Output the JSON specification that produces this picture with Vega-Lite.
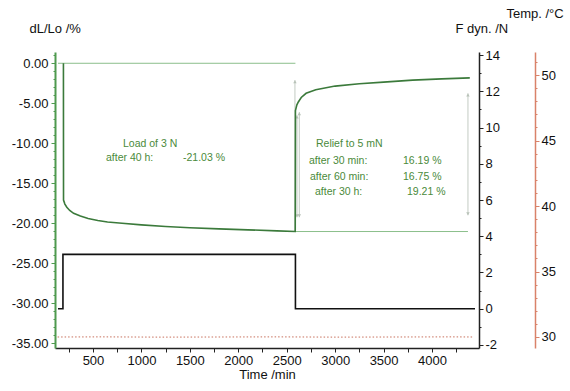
{
  "$schema": "https://vega.github.io/schema/vega-lite/v6.json",
  "width": 424,
  "height": 296,
  "autosize": {"type": "none"},
  "padding": {"left": 55, "top": 52, "right": 91, "bottom": 43},
  "background": "white",
  "config": {
    "view": {"stroke": null},
    "font": "Liberation Sans",
    "axis": {"labelFont": "Liberation Sans", "titleFont": "Liberation Sans", "labelFontSize": 13, "titleFontSize": 13, "titleFontWeight": "normal", "labelColor": "#111", "titleColor": "#111", "grid": false, "labelOverlap": false, "labelBound": false, "labelFlush": false}
  },
  "datasets": {
    "strain": [
      {"i": 0, "t": 195, "L": 0},
      {"i": 1, "t": 196, "L": -17.1},
      {"i": 2, "t": 210, "L": -17.6},
      {"i": 3, "t": 230, "L": -18.0},
      {"i": 4, "t": 260, "L": -18.4},
      {"i": 5, "t": 300, "L": -18.75},
      {"i": 6, "t": 370, "L": -19.1},
      {"i": 7, "t": 450, "L": -19.4},
      {"i": 8, "t": 550, "L": -19.65},
      {"i": 9, "t": 650, "L": -19.85},
      {"i": 10, "t": 800, "L": -20.0},
      {"i": 11, "t": 1000, "L": -20.2},
      {"i": 12, "t": 1250, "L": -20.4},
      {"i": 13, "t": 1500, "L": -20.55},
      {"i": 14, "t": 1800, "L": -20.7},
      {"i": 15, "t": 2100, "L": -20.82},
      {"i": 16, "t": 2400, "L": -20.95},
      {"i": 17, "t": 2588, "L": -21.03},
      {"i": 18, "t": 2590, "L": -5.9},
      {"i": 19, "t": 2605, "L": -5.2},
      {"i": 20, "t": 2620, "L": -4.84},
      {"i": 21, "t": 2650, "L": -4.28},
      {"i": 22, "t": 2700, "L": -3.75},
      {"i": 23, "t": 2800, "L": -3.3},
      {"i": 24, "t": 3000, "L": -2.85},
      {"i": 25, "t": 3250, "L": -2.55},
      {"i": 26, "t": 3500, "L": -2.35},
      {"i": 27, "t": 3800, "L": -2.1},
      {"i": 28, "t": 4100, "L": -1.95},
      {"i": 29, "t": 4390, "L": -1.82}
    ],
    "refs": [
      {"t": 139, "t2": 2590, "L": 0},
      {"t": 2590, "t2": 4371, "L": -21.03}
    ],
    "arrows": [
      {"t": 2585, "L": -2.1, "L2": -21.0},
      {"t": 2606, "L": -6.5, "L2": -19.25},
      {"t": 2630, "L": -6.1, "L2": -19.25},
      {"t": 4371, "L": -3.75, "L2": -19.0}
    ],
    "heads": [
      {"t": 2585, "L": -2.3, "s": "triangle-up"},
      {"t": 2606, "L": -6.7, "s": "triangle-up"},
      {"t": 2630, "L": -6.3, "s": "triangle-up"},
      {"t": 2606, "L": -19.05, "s": "triangle-down"},
      {"t": 2630, "L": -19.05, "s": "triangle-down"},
      {"t": 4371, "L": -3.95, "s": "triangle-up"},
      {"t": 4371, "L": -18.8, "s": "triangle-down"}
    ],
    "notes": [
      {"t": 810, "L": -10.1, "label": "Load of 3 N"},
      {"t": 634, "L": -11.9, "label": "after 40 h:"},
      {"t": 1429, "L": -11.9, "label": "-21.03 %"},
      {"t": 2802, "L": -10.1, "label": "Relief to 5 mN"},
      {"t": 2730, "L": -12.25, "label": "after 30 min:"},
      {"t": 3700, "L": -12.25, "label": "16.19 %"},
      {"t": 2740, "L": -14.25, "label": "after 60 min:"},
      {"t": 3700, "L": -14.25, "label": "16.75 %"},
      {"t": 2792, "L": -16.1, "label": "after 30 h:"},
      {"t": 3742, "L": -16.1, "label": "19.21 %"}
    ],
    "force": [
      {"i": 0, "t": 139, "F": 0},
      {"i": 1, "t": 190, "F": 0},
      {"i": 2, "t": 190, "F": 3},
      {"i": 3, "t": 2590, "F": 3},
      {"i": 4, "t": 2590, "F": 0},
      {"i": 5, "t": 4444, "F": 0}
    ],
    "temp": [
      {"t": 135, "T": 30.0},
      {"t": 600, "T": 30.01},
      {"t": 1200, "T": 29.99},
      {"t": 1800, "T": 30.0},
      {"t": 2400, "T": 30.01},
      {"t": 3000, "T": 29.99},
      {"t": 3600, "T": 30.0},
      {"t": 4200, "T": 30.01},
      {"t": 4430, "T": 30.0}
    ]
  },
  "layer": [
    {
      "layer": [
        {
          "data": {"name": "refs"},
          "mark": {"type": "rule", "color": "#8cbf8c", "strokeWidth": 1},
          "encoding": {
            "x": {"field": "t", "type": "quantitative", "scale": {"domain": [108, 4485], "nice": false, "zero": false},
              "axis": {"title": "Time /min", "titleX": 212, "titleY": 26, "titleBaseline": "middle", "titleAlign": "center",
                "values": [250, 500, 750, 1000, 1250, 1500, 1750, 2000, 2250, 2500, 2750, 3000, 3250, 3500, 3750, 4000, 4250],
                "tickCount": 200,
                "labelExpr": "datum.value % 500 === 0 ? format(datum.value, 'd') : ''",
                "labelOverlap": false,
                "domainColor": "#222", "domainWidth": 1.5, "tickColor": "#222", "tickSize": 4, "labelPadding": 2}},
            "x2": {"field": "t2"},
            "y": {"field": "L", "type": "quantitative", "scale": {"domain": [-35.59, 1.41], "nice": false, "zero": false},
              "axis": {"title": "dL/Lo /%", "titleAngle": 0, "titleAlign": "left", "titleBaseline": "middle", "titleX": -26, "titleY": -24,
                "values": [-35, -34, -33, -32, -31, -30, -29, -28, -27, -26, -25, -24, -23, -22, -21, -20, -19, -18, -17, -16, -15, -14, -13, -12, -11, -10, -9, -8, -7, -6, -5, -4, -3, -2, -1, 0, 1],
                "tickCount": 200,
                "labelExpr": "datum.value % 5 === 0 ? (datum.value < 0 ? '-' : '') + format(abs(datum.value), '.2f') : ''",
                "labelOverlap": false,
                "domainColor": "#4f9a4f", "domainWidth": 2, "tickColor": "#4f9a4f",
                "tickSize": {"condition": {"test": "datum.value % 5 === 0", "value": 4}, "value": 2},
                "labelPadding": 3}}
          }
        },
        {
          "data": {"name": "arrows"},
          "mark": {"type": "rule", "color": "#c3cbc3", "strokeWidth": 1},
          "encoding": {
            "x": {"field": "t", "type": "quantitative"},
            "y": {"field": "L", "type": "quantitative"},
            "y2": {"field": "L2"}
          }
        },
        {
          "data": {"name": "heads"},
          "mark": {"type": "point", "filled": true, "color": "#b8c2b8", "size": 12, "opacity": 1},
          "encoding": {
            "x": {"field": "t", "type": "quantitative"},
            "y": {"field": "L", "type": "quantitative"},
            "shape": {"field": "s", "type": "nominal", "scale": null, "legend": null}
          }
        },
        {
          "data": {"name": "strain"},
          "mark": {"type": "line", "color": "#3b7a3b", "strokeWidth": 1.6},
          "encoding": {
            "x": {"field": "t", "type": "quantitative"},
            "y": {"field": "L", "type": "quantitative"},
            "order": {"field": "i", "type": "quantitative"}
          }
        },
        {
          "data": {"name": "notes"},
          "mark": {"type": "text", "align": "left", "baseline": "middle", "color": "#4a8a3a", "fontSize": 10.5, "font": "Liberation Sans"},
          "encoding": {
            "x": {"field": "t", "type": "quantitative"},
            "y": {"field": "L", "type": "quantitative"},
            "text": {"field": "label", "type": "nominal"}
          }
        }
      ]
    },
    {
      "data": {"name": "force"},
      "mark": {"type": "line", "color": "#111", "strokeWidth": 1.6},
      "encoding": {
        "x": {"field": "t", "type": "quantitative"},
        "y": {"field": "F", "type": "quantitative", "scale": {"domain": [-2.17, 14.17], "nice": false, "zero": false},
          "axis": {"orient": "right", "title": "F dyn. /N", "titleAngle": 0, "titleAlign": "left", "titleBaseline": "middle", "titleX": -24, "titleY": -24,
            "values": [-2, -1, 0, 1, 2, 3, 4, 5, 6, 7, 8, 9, 10, 11, 12, 13, 14],
            "tickCount": 200,
            "labelExpr": "datum.value % 2 === 0 ? (datum.value < 0 ? '-' : '') + format(abs(datum.value), 'd') : ''",
            "labelOverlap": false,
            "domainColor": "#222", "domainWidth": 1.5, "tickColor": "#222",
            "tickSize": {"condition": {"test": "datum.value % 2 === 0", "value": 4}, "value": 2},
            "labelPadding": 2}},
        "order": {"field": "i", "type": "quantitative"}
      }
    },
    {
      "data": {"name": "temp"},
      "mark": {"type": "line", "color": "#c8705c", "strokeWidth": 1, "strokeDash": [1.5, 2]},
      "encoding": {
        "x": {"field": "t", "type": "quantitative"},
        "y": {"field": "T", "type": "quantitative", "scale": {"domain": [29.16, 51.76], "nice": false, "zero": false},
          "axis": {"orient": "right", "offset": 56, "title": "Temp. /°C", "titleAngle": 0, "titleAlign": "left", "titleBaseline": "middle", "titleX": -29, "titleY": -39,
            "values": [30, 31, 32, 33, 34, 35, 36, 37, 38, 39, 40, 41, 42, 43, 44, 45, 46, 47, 48, 49, 50, 51],
            "tickCount": 200,
            "labelExpr": "datum.value % 5 === 0 ? format(datum.value, 'd') : ''",
            "labelOverlap": false,
            "domainColor": "#d9826a", "domainWidth": 1.5, "tickColor": "#d9826a",
            "tickSize": {"condition": {"test": "datum.value % 5 === 0", "value": 4}, "value": 2},
            "labelPadding": 2}}
      }
    }
  ],
  "resolve": {"scale": {"y": "independent"}}
}
